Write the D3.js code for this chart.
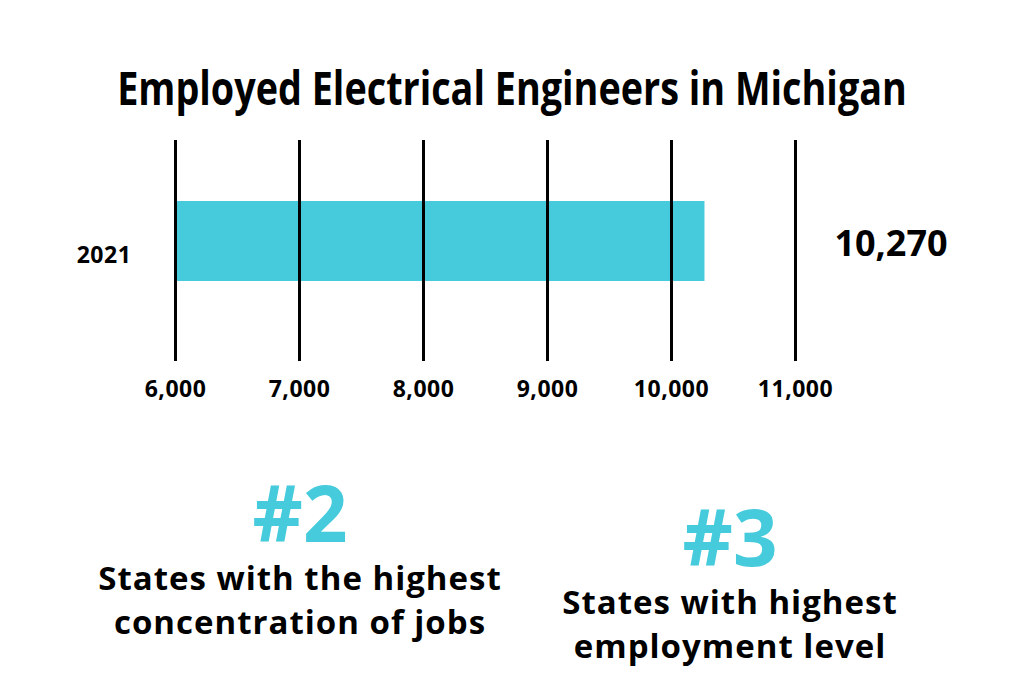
<!DOCTYPE html>
<html>
<head>
<meta charset="utf-8">
<script src="https://cdn.jsdelivr.net/npm/d3@7"></script>
<style>
  html, body { margin: 0; padding: 0; background: #ffffff; }
  svg { display: block; font-family: "Open Sans", "Noto Sans", sans-serif; }
</style>
</head>
<body>
<svg id="chart" width="1024" height="676"></svg>
<script>
const title = "Employed Electrical Engineers in Michigan";
const categories = ["2021"];
const values = [10270];
const tickValues = [6000, 7000, 8000, 9000, 10000, 11000];
const xDomain = [6000, 11000];
const rankNumbers = ["#2", "#3"];
const rankLines = [
  ["States with the highest", "concentration of jobs"],
  ["States with highest", "employment level"]
];

const barColor = "#45cbdc";
const svg = d3.select("#chart");

// Title (horizontally condensed to match reference width)
const titleG = svg.append("g");
const titleText = titleG.append("text")
  .attr("x", 0).attr("y", 0)
  .attr("text-anchor", "middle")
  .attr("font-size", 46).attr("font-weight", 700)
  .attr("fill", "#000")
  .text(title);
const natural = titleText.node().getComputedTextLength() || 790;
titleG.attr("transform", `translate(512,105) scale(${790 / natural},1)`);

const x = d3.scaleLinear().domain(xDomain).range([175, 795]);
const y = d3.scaleBand().domain(categories).range([201, 281]).padding(0);

// Bar
svg.selectAll("rect.bar").data(values).join("rect")
  .attr("class", "bar")
  .attr("x", x(xDomain[0]))
  .attr("y", (d, i) => y(categories[i]))
  .attr("width", d => x(d) - x(xDomain[0]))
  .attr("height", y.bandwidth())
  .attr("fill", barColor);

// Grid axis
const axis = d3.axisBottom(x)
  .tickValues(tickValues)
  .tickSize(221)
  .tickPadding(20)
  .tickFormat(d3.format(","));
const gAxis = svg.append("g").attr("transform", "translate(0,140)").call(axis);
gAxis.select(".domain").remove();
gAxis.selectAll(".tick line").attr("stroke", "#000").attr("stroke-width", 3);
gAxis.selectAll(".tick text")
  .attr("fill", "#000")
  .attr("font-size", 23).attr("font-weight", 700)
  .attr("letter-spacing", 0.5)
  .attr("font-family", "'Open Sans', sans-serif");

// Category label
svg.selectAll("text.cat").data(categories).join("text")
  .attr("class", "cat")
  .attr("x", 104)
  .attr("y", d => y(d) + y.bandwidth() / 2 + 22)
  .attr("text-anchor", "middle")
  .attr("font-size", 23).attr("font-weight", 700)
  .attr("letter-spacing", 0.5)
  .text(d => d);

// Value label
svg.selectAll("text.val").data(values).join("text")
  .attr("class", "val")
  .attr("x", 891).attr("y", 256)
  .attr("text-anchor", "middle")
  .attr("font-size", 36).attr("font-weight", 700)
  .text(d => d3.format(",")(d));

// Rank blocks
const blocks = [
  { cx: 300, numY: 542, lineY: [590, 634] },
  { cx: 730, numY: 566, lineY: [614, 658] }
];
blocks.forEach((b, i) => {
  svg.append("text")
    .attr("x", b.cx).attr("y", b.numY)
    .attr("text-anchor", "middle")
    .attr("font-size", 78).attr("font-weight", 700)
    .attr("fill", barColor)
    .text(rankNumbers[i]);
  rankLines[i].forEach((t, j) => {
    svg.append("text")
      .attr("x", b.cx).attr("y", b.lineY[j])
      .attr("text-anchor", "middle")
      .attr("font-size", 33).attr("font-weight", 700)
      .attr("letter-spacing", 1)
      .attr("fill", "#000")
      .text(t);
  });
});
</script>
</body>
</html>
